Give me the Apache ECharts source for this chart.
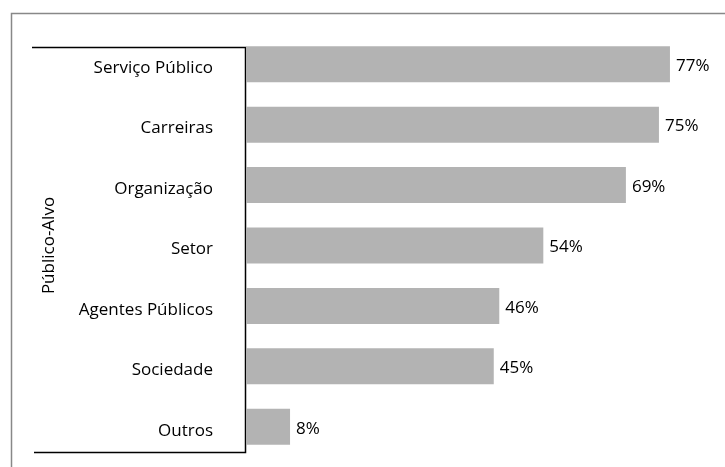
<!DOCTYPE html>
<html>
<head>
<meta charset="utf-8">
<script src="https://cdn.jsdelivr.net/npm/echarts@6/dist/echarts.min.js"></script>
<style>
  html, body { margin: 0; padding: 0; background: #fff; }
  #chart { width: 725px; height: 467px; }
</style>
</head>
<body>
<div id="chart"></div>
<script>
// top-to-bottom order as in the picture
const categories = ['Serviço Público', 'Carreiras', 'Organização', 'Setor', 'Agentes Públicos', 'Sociedade', 'Outros'];
const percentages = [77, 75, 69, 54, 46, 45, 8];
const axisTitle = 'Público-Alvo';

const chart = echarts.init(document.getElementById('chart'));
const font = '"Open Sans", sans-serif';

chart.setOption({
    animation: false,
    grid: { left: 246, right: 11, top: 34, bottom: 10 },
    xAxis: {
        type: 'value',
        min: 0,
        max: 85,
        show: false
    },
    yAxis: {
        type: 'category',
        data: categories,
        inverse: true,
        axisLine: { show: false },
        axisTick: { show: false },
        axisLabel: {
            color: '#000', fontFamily: font, fontSize: 17, margin: 33,
            formatter: v => '{c|' + v + '}',
            rich: { c: { color: '#000', fontFamily: font, fontSize: 17, padding: [8, 0, 0, 0] } }
        },
        name: axisTitle,
        nameLocation: 'middle',
        nameRotate: 90,
        nameGap: 188,
        nameTextStyle: { color: '#000', fontFamily: font, fontSize: 17 }
    },
    series: [{
        type: 'bar',
        data: percentages,
        barWidth: 36,
        itemStyle: { color: '#b3b3b3' },
        label: {
            show: true,
            position: 'right',
            distance: 6,
            formatter: '{c}%',
            color: '#000',
            fontFamily: font,
            fontSize: 17,
            offset: [0, 2]
        }
    }],
    graphic: [
        // outer frame (cut off at right and bottom)
        { type: 'polyline', shape: { points: [[11.5, 467], [11.5, 13.5], [725, 13.5]] },
          style: { stroke: '#888', lineWidth: 1.5, fill: null } },
        // bracket round the category labels
        { type: 'polyline', shape: { points: [[32, 47.5], [245.5, 47.5], [245.5, 452.5], [34, 452.5]] },
          style: { stroke: '#000', lineWidth: 1.5, fill: null } }
    ]
});
</script>
</body>
</html>
